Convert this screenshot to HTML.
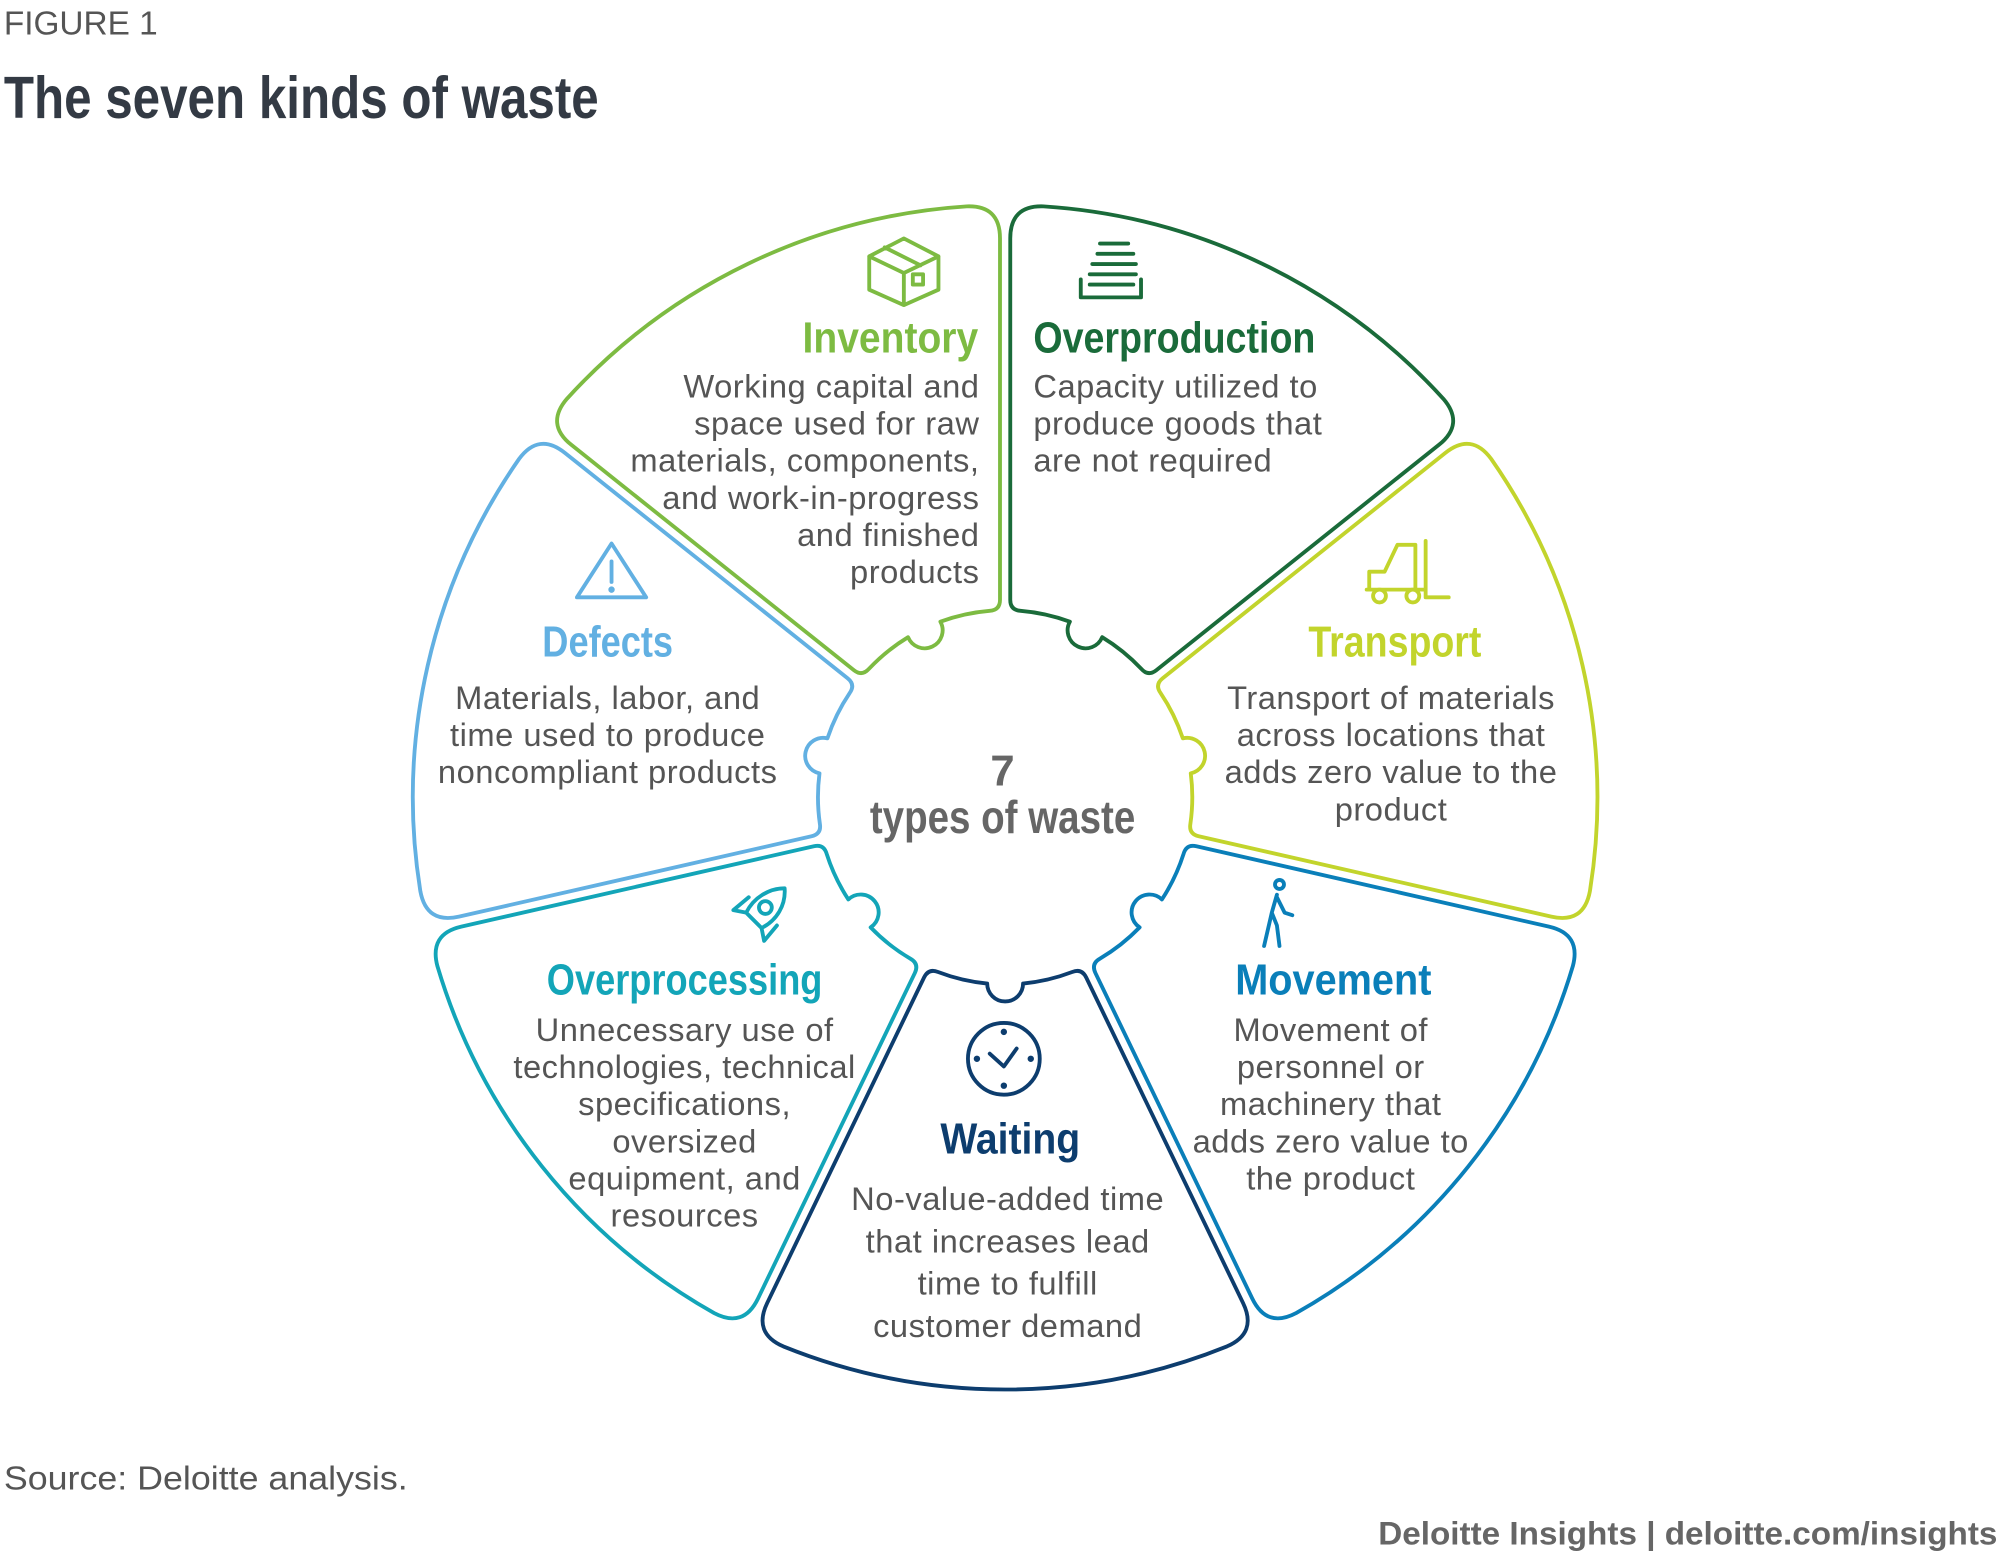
<!DOCTYPE html>
<html><head><meta charset="utf-8"><style>
html,body{margin:0;padding:0;background:#fff;}
svg{display:block}
.t{font-family:"Liberation Sans Narrow","Liberation Sans",sans-serif;font-weight:bold;font-size:34px;}
.b{font-family:"Liberation Sans",sans-serif;font-size:25.5px;fill:#555;letter-spacing:0.4px}
</style></head><body>
<svg id="s" width="2000" height="1551" viewBox="0 0 1560 1210" preserveAspectRatio="none" xmlns="http://www.w3.org/2000/svg">
<text x="3" y="27" textLength="120" lengthAdjust="spacingAndGlyphs" style="font-family:'Liberation Sans',sans-serif;font-size:26px;fill:#555">FIGURE 1</text>
<text x="3" y="92" textLength="464" lengthAdjust="spacingAndGlyphs" style="font-family:'Liberation Sans Narrow','Liberation Sans',sans-serif;font-weight:bold;font-size:46px;fill:#333a44">The seven kinds of waste</text>
<g id="segs" fill="none" stroke-width="3" stroke-linejoin="round"></g>

<text class="t" x="763" y="275" text-anchor="end" fill="#7dbb42" textLength="137" lengthAdjust="spacingAndGlyphs">Inventory</text>
<g class="b" text-anchor="end"><text x="764" y="310">Working capital and</text><text x="764" y="339">space used for raw</text><text x="764" y="368">materials, components,</text><text x="764" y="397">and work-in-progress</text><text x="764" y="426">and finished</text><text x="764" y="455">products</text></g>

<text class="t" x="806" y="275" fill="#1a6b3a" textLength="220" lengthAdjust="spacingAndGlyphs">Overproduction</text>
<g class="b"><text x="806" y="310">Capacity utilized to</text><text x="806" y="339">produce goods that</text><text x="806" y="368">are not required</text></g>

<text class="t" x="1088" y="512" text-anchor="middle" fill="#c2d42c" textLength="135" lengthAdjust="spacingAndGlyphs">Transport</text>
<g class="b" text-anchor="middle"><text x="1085" y="553">Transport of materials</text><text x="1085" y="582">across locations that</text><text x="1085" y="611">adds zero value to the</text><text x="1085" y="640">product</text></g>

<text class="t" x="474" y="512" text-anchor="middle" fill="#62b0e2" textLength="102" lengthAdjust="spacingAndGlyphs">Defects</text>
<g class="b" text-anchor="middle"><text x="474" y="553">Materials, labor, and</text><text x="474" y="582">time used to produce</text><text x="474" y="611">noncompliant products</text></g>

<text x="782" y="613" text-anchor="middle" class="t" style="font-size:34px" fill="#666">7</text>
<text x="782" y="650" text-anchor="middle" class="t" style="font-size:36px" fill="#666" textLength="207" lengthAdjust="spacingAndGlyphs">types of waste</text>

<text class="t" x="534" y="776" text-anchor="middle" fill="#13a5b8" textLength="215" lengthAdjust="spacingAndGlyphs">Overprocessing</text>
<g class="b" text-anchor="middle"><text x="534" y="812">Unnecessary use of</text><text x="534" y="841">technologies, technical</text><text x="534" y="870">specifications,</text><text x="534" y="899">oversized</text><text x="534" y="928">equipment, and</text><text x="534" y="957">resources</text></g>

<text class="t" x="1040" y="776" text-anchor="middle" fill="#0a7fb9" textLength="153" lengthAdjust="spacingAndGlyphs">Movement</text>
<g class="b" text-anchor="middle"><text x="1038" y="812">Movement of</text><text x="1038" y="841">personnel or</text><text x="1038" y="870">machinery that</text><text x="1038" y="899">adds zero value to</text><text x="1038" y="928">the product</text></g>

<text class="t" x="788" y="900" text-anchor="middle" fill="#0d3d6e" textLength="109" lengthAdjust="spacingAndGlyphs">Waiting</text>
<g class="b" text-anchor="middle"><text x="786" y="944">No-value-added time</text><text x="786" y="977">that increases lead</text><text x="786" y="1010">time to fulfill</text><text x="786" y="1043">customer demand</text></g>

<g fill="none" stroke-width="3" stroke-linejoin="round" stroke-linecap="round">
<g stroke="#7dbb42"><path d="M678 200 L705 186 L732 200 L732 226 L705 238 L678 226 Z M678 200 L705 213 L732 200 M705 213 L705 238 M690 193 L718 207"/><rect x="712" y="214" width="8" height="8"/></g>
<g stroke="#1a6b3a"><path d="M843 218 V232 H890 V218 M850 222 H884 M850 214 H886 M852 206 H886 M856 198 H884 M858 190 H880"/></g>
<g stroke="#c2d42c"><path d="M1068 460 V446 H1080 L1090 425 H1104 V460 M1112 422 V466 H1130 M1066 460 H1112"/><circle cx="1076" cy="465" r="5"/><circle cx="1102" cy="465" r="5"/></g>
<g stroke="#62b0e2"><path d="M477 424 L504 466 H450 Z M477 438 V454"/><circle cx="477" cy="460" r="1" fill="#62b0e2"/></g>
<g stroke="#13a5b8"><path d="M612 693 C600 693 588 700 582 712 L594 724 C606 718 613 706 612 693 Z M582 712 L572 710 L584 700 M594 724 L596 734 L606 722"/><circle cx="597" cy="708" r="5"/></g>
<g stroke="#0a7fb9"><circle cx="998" cy="690" r="3.5"/><path d="M996 698 L992 712 L996 722 L998 738 M992 712 L986 738 M996 700 L1002 712 L1008 714"/></g>
<g stroke="#0d3d6e"><circle cx="783" cy="826" r="28"/><path d="M772 822 L783 832 L793 818"/><circle cx="783" cy="805" r="1" fill="#0d3d6e"/><circle cx="783" cy="847" r="1" fill="#0d3d6e"/><circle cx="762" cy="826" r="1" fill="#0d3d6e"/><circle cx="804" cy="826" r="1" fill="#0d3d6e"/></g>
</g>

<text x="3" y="1162" textLength="315" lengthAdjust="spacingAndGlyphs" style="font-family:'Liberation Sans',sans-serif;font-size:26px;fill:#555">Source: Deloitte analysis.</text>
<text x="1558" y="1205" text-anchor="end" textLength="483" lengthAdjust="spacingAndGlyphs" style="font-family:'Liberation Sans',sans-serif;font-size:25px;fill:#666;font-weight:bold">Deloitte Insights | deloitte.com/insights</text>
</svg>
<script>
(function(){
var cx=784,cy=622,ri=146,ro=462,g=4,R=26,r2=8;
var cols=["#1a6b3a","#c2d42c","#0a7fb9","#0d3d6e","#13a5b8","#62b0e2","#7dbb42"];
var step=2*Math.PI/7;
function P(r,t){return [cx+r*Math.sin(t),cy-r*Math.cos(t)];}
function f(p){return p[0].toFixed(1)+" "+p[1].toFixed(1);}
var G=document.getElementById("segs"),html="";
for(var i=0;i<7;i++){
 var a1=i*step,a2=(i+1)*step;
 var o1=[g*Math.cos(a1),g*Math.sin(a1)],o2=[-g*Math.cos(a2),-g*Math.sin(a2)];
 function A(p,o){return [p[0]+o[0],p[1]+o[1]];}
 var ia1=a1+(g+r2)/ri, ia2=a2-(g+r2)/ri;
 var d="M"+f(A(P(ri+r2,a1),o1));
 d+=" L"+f(A(P(ro-R,a1),o1));
 d+=" Q"+f(A(P(ro,a1),o1))+" "+f(P(ro,a1+(R+g)/ro));
 d+=" A"+ro+" "+ro+" 0 0 1 "+f(P(ro,a2-(R+g)/ro));
 d+=" Q"+f(A(P(ro,a2),o2))+" "+f(A(P(ro-R,a2),o2));
 d+=" L"+f(A(P(ri+r2,a2),o2));
 d+=" Q"+f(A(P(ri,a2),o2))+" "+f(P(ri,ia2));
 var mid=(a1+a2)/2, kb=14, dk=kb/ri;
 d+=" A"+ri+" "+ri+" 0 0 0 "+f(P(ri,mid+dk));
 d+=" A"+kb+" "+kb+" 0 1 "+(i%2?0:1)+" "+f(P(ri,mid-dk));
 d+=" A"+ri+" "+ri+" 0 0 0 "+f(P(ri,ia1));
 d+=" Q"+f(A(P(ri,a1),o1))+" "+f(A(P(ri+r2,a1),o1))+" Z";
 html+='<path d="'+d+'" stroke="'+cols[i]+'"/>';
}
G.innerHTML=html;
})();
</script>
</body></html>
